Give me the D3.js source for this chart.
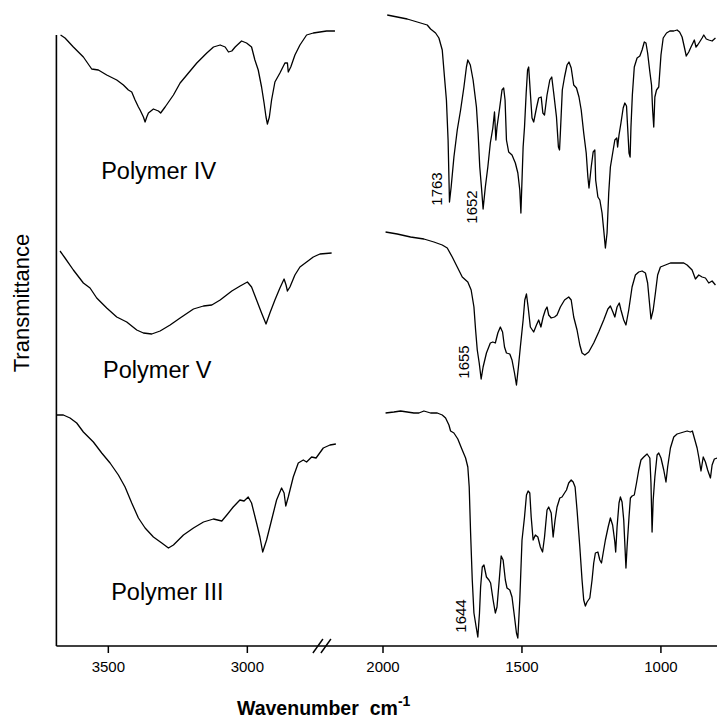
<!DOCTYPE html>
<html>
<head>
<meta charset="utf-8">
<script src="https://cdn.jsdelivr.net/npm/d3@7"></script>
<style>
  html, body { margin: 0; padding: 0; background: #ffffff; }
  svg { display: block; }
  text { font-family: "Liberation Sans", Arial, Helvetica, sans-serif; fill: #000; }
</style>
</head>
<body>
<svg id="chart" width="717" height="722"></svg>
<script>
// ---------------- DATA ----------------
const xTickValues = [3500, 3000, 2000, 1500, 1000];
const seriesNames = ["Polymer IV", "Polymer V", "Polymer III"];
const peakLabels = ["1763", "1652", "1655", "1644"];
const xTitle = "Wavenumber";
const xUnit = "cm";
const xUnitExp = "-1";
const yTitle = "Transmittance";

// Polymer IV, 3700-2680 cm-1
const ivLeftWn = [3670,3654,3624,3588,3558,3534,3504,3468,3444,3426,3414,3402,3390,3384,3372,3366,3360,3354,3336,3318,3310,3294,3264,3240,3216,3180,3144,3120,3096,3078,3066,3054,3042,3019,3001,2983,2971,2959,2947,2938,2931,2926,2919,2911,2899,2881,2863,2854,2851,2842,2827,2809,2785,2761,2737,2713,2683];
const ivLeftT  = [611,608,599,589,577,576,571,566,561,556,554,546,539,536,529,524,529,533,537,535,533,539,551,563,571,583,593,599,601,599,594,595,599,605,603,599,586,576,559,543,529,522,529,546,564,573,583,583,574,579,591,601,611,613,614,615,615];
// Polymer IV, 2000-800 cm-1
const ivRightWn = [1983,1947,1911,1875,1839,1827,1809,1797,1785,1777,1770,1764,1759,1753,1743,1731,1719,1707,1698,1693,1684,1674,1662,1656,1650,1644,1638,1630,1621,1612,1603,1597,1592,1588,1578,1570,1564,1559,1554,1546,1534,1522,1513,1506,1502,1494,1489,1483,1478,1474,1468,1462,1456,1446,1438,1429,1423,1417,1408,1398,1391,1384,1374,1367,1363,1360,1353,1345,1336,1329,1321,1312,1302,1293,1285,1276,1267,1261,1257,1249,1242,1236,1233,1225,1218,1210,1204,1198,1192,1186,1180,1170,1164,1157,1154,1149,1142,1134,1128,1122,1118,1113,1109,1106,1101,1094,1084,1074,1066,1058,1052,1046,1038,1032,1028,1024,1020,1014,1006,998,990,978,966,952,940,931,922,914,907,898,890,883,878,872,866,859,850,844,835,826,814,802];
const ivRightT  = [631,629,627,624,621,617,613,608,596,569,546,506,444,459,489,516,536,559,579,586,581,566,539,513,479,459,437,459,479,503,518,534,506,519,539,556,558,546,506,494,491,483,473,456,433,499,519,553,576,579,553,528,524,538,548,549,533,531,551,566,569,553,529,499,496,513,556,569,581,584,578,561,558,549,536,513,493,469,458,479,494,496,466,449,446,433,416,398,413,453,479,496,506,508,499,511,523,538,543,540,519,493,489,519,551,579,588,590,596,604,603,593,574,561,536,519,549,556,559,591,608,613,615,615,616,614,609,599,590,594,599,603,606,599,601,604,608,611,607,606,605,608];

// Polymer V, 3700-2680 cm-1
const vLeftWn = [3672,3654,3624,3588,3564,3540,3504,3468,3432,3396,3372,3342,3312,3276,3240,3192,3156,3126,3096,3054,3024,2998,2983,2965,2947,2931,2917,2899,2881,2866,2859,2854,2845,2827,2809,2785,2761,2737,2695];
const vLeftT  = [395,388,376,363,358,348,338,329,324,316,313,312,315,321,328,337,340,341,346,355,360,364,359,346,333,322,333,346,358,367,361,355,359,371,379,384,389,392,393];
// Polymer V, 2000-800 cm-1
const vRightWn = [1989,1947,1899,1851,1815,1785,1767,1749,1731,1713,1693,1681,1671,1665,1659,1652,1645,1638,1626,1612,1603,1594,1585,1576,1568,1561,1554,1542,1534,1525,1518,1511,1504,1494,1488,1482,1476,1468,1456,1446,1438,1430,1422,1414,1408,1402,1393,1381,1372,1360,1345,1330,1321,1312,1300,1290,1282,1272,1258,1240,1222,1204,1189,1180,1171,1164,1156,1148,1142,1132,1124,1114,1102,1090,1078,1066,1054,1046,1038,1034,1026,1018,1010,1000,982,964,946,928,916,904,886,874,862,850,838,826,814,802];
const vRightT  = [414,412,409,407,404,401,398,389,379,369,364,356,339,316,296,283,267,279,293,303,304,303,313,319,314,299,293,292,286,273,261,279,299,326,346,352,339,319,314,321,326,319,329,336,339,331,328,329,331,339,346,349,346,329,316,301,293,291,294,303,314,326,337,340,334,329,339,343,336,326,321,336,359,371,374,375,373,363,339,327,336,353,371,379,381,383,383,383,383,381,376,367,371,369,368,363,365,361];

// Polymer III, 3700-2680 cm-1
const iiiLeftWn = [3684,3660,3636,3612,3588,3552,3522,3492,3462,3438,3414,3390,3366,3336,3306,3282,3264,3228,3192,3156,3120,3090,3072,3049,3025,3010,2995,2983,2965,2953,2943,2929,2911,2893,2875,2866,2860,2851,2833,2815,2797,2785,2767,2751,2725,2701,2679];
const iiiLeftT  = [231,231,228,223,214,204,193,183,171,159,143,128,118,109,103,98,101,111,118,124,127,125,131,139,146,145,149,143,123,109,94,106,126,146,158,153,140,149,169,183,186,184,189,188,198,201,202];
// Polymer III, 2000-800 cm-1
const iiiRightWn = [1989,1959,1935,1911,1887,1869,1851,1827,1803,1785,1773,1761,1755,1743,1729,1716,1701,1693,1688,1683,1677,1671,1663,1657,1651,1647,1641,1635,1626,1617,1611,1602,1594,1588,1582,1573,1566,1558,1552,1542,1534,1525,1518,1513,1506,1498,1489,1482,1476,1470,1465,1458,1450,1441,1432,1424,1417,1408,1402,1393,1386,1379,1372,1362,1354,1345,1338,1330,1321,1314,1307,1300,1290,1282,1276,1270,1264,1254,1246,1240,1234,1225,1218,1212,1206,1198,1188,1180,1172,1164,1161,1156,1149,1144,1138,1132,1127,1124,1120,1113,1108,1102,1094,1086,1078,1070,1060,1048,1038,1034,1030,1026,1020,1012,1006,998,988,980,974,964,952,940,928,916,904,892,885,878,868,862,854,846,838,830,820,814,806,796];
const iiiRightT  = [233,234,235,234,233,233,235,233,233,231,228,221,215,213,207,198,188,179,159,113,66,33,19,9,33,59,79,81,69,66,63,46,33,39,59,90,86,66,58,56,49,29,13,8,46,106,129,151,155,153,129,106,111,109,99,94,109,136,139,133,109,126,139,148,149,153,156,163,166,164,159,136,99,66,46,40,44,48,66,83,93,94,86,83,93,106,119,128,121,104,94,119,143,149,144,126,96,78,99,129,148,150,151,163,176,186,189,192,188,163,114,146,169,191,193,188,176,164,179,198,209,212,213,214,215,214,215,208,198,189,175,189,184,176,168,181,187,188];

// ---------------- CHART ----------------
const svg = d3.select("#chart");
svg.append("rect").attr("width", 717).attr("height", 722).attr("fill", "#fff");

// broken wavenumber axis: 3685-2680 | 2000-800 (piecewise linear scale)
const x = d3.scaleLinear()
  .domain([3685, 2680, 2000, 800])
  .range([56.4, 335.8, 382.5, 716]);
const y = d3.scaleLinear().domain([0, 646]).range([646, 0]);

const line = d3.line()
  .x(d => x(d[0]))
  .y(d => y(d[1]));

const zipSeries = (wn, t) => wn.map((w, i) => [w, t[i]]);
const curves = [
  zipSeries(ivLeftWn, ivLeftT), zipSeries(ivRightWn, ivRightT),
  zipSeries(vLeftWn, vLeftT), zipSeries(vRightWn, vRightT),
  zipSeries(iiiLeftWn, iiiLeftT), zipSeries(iiiRightWn, iiiRightT)
];

svg.append("g").selectAll("path")
  .data(curves)
  .join("path")
  .attr("d", line)
  .attr("fill", "none")
  .attr("stroke", "#000")
  .attr("stroke-width", 1.3)
  .attr("stroke-linejoin", "round");

// x axis
const xAxis = d3.axisBottom(x)
  .tickValues(xTickValues)
  .tickFormat(d3.format("d"))
  .tickSize(7)
  .tickPadding(8)
  .tickSizeOuter(0);
const gx = svg.append("g")
  .attr("transform", `translate(0,${y(0)})`)
  .call(xAxis);
gx.select(".domain").attr("stroke", "#000").attr("stroke-width", 1.6)
  .attr("d", `M${x.range()[0]},0H717`);
gx.selectAll(".tick line").attr("stroke", "#000").attr("stroke-width", 1.5);
gx.selectAll(".tick text")
  .style("font-family", "'Liberation Sans', Arial, sans-serif")
  .style("font-size", "15px")
  .attr("fill", "#000");

// y axis (plain line, no ticks)
const yAxis = d3.axisLeft(y).tickValues([]).tickSizeOuter(0);
const gy = svg.append("g")
  .attr("transform", `translate(${x.range()[0]},0)`)
  .call(yAxis);
gy.select(".domain").attr("stroke", "#000").attr("stroke-width", 1.6)
  .attr("d", `M0,${y(0)}V${y(611)}`);

// axis break marks
const breakWn = 2730;
[-4, 4].forEach(off => {
  svg.append("line")
    .attr("x1", x(breakWn) + off - 5).attr("y1", y(0) + 7)
    .attr("x2", x(breakWn) + off + 5).attr("y2", y(0) - 7)
    .attr("stroke", "#000").attr("stroke-width", 1.4);
});

// series names (anchored in data coordinates)
const namePos = [[3524, 467], [3517, 268], [3488, 46]];
svg.append("g").selectAll("text")
  .data(seriesNames)
  .join("text")
  .attr("x", (d, i) => x(namePos[i][0]))
  .attr("y", (d, i) => y(namePos[i][1]))
  .style("font-size", "23.5px")
  .text(d => d);

// peak labels (rotated)
const peakPos = [[1807, 457], [1678, 439], [1710, 284], [1719, 30]];
svg.append("g").selectAll("text")
  .data(peakLabels)
  .join("text")
  .attr("transform", (d, i) => `translate(${x(peakPos[i][0])},${y(peakPos[i][1])}) rotate(-90)`)
  .attr("text-anchor", "middle")
  .attr("dominant-baseline", "central")
  .style("font-size", "15px")
  .text(d => d);

// axis titles
const xt = svg.append("text")
  .attr("x", 237)
  .attr("y", 715)
  .style("font-size", "19.5px")
  .style("font-weight", "bold");
xt.append("tspan").text(xTitle);
xt.append("tspan").attr("dx", 11).text(xUnit);
xt.append("tspan").attr("dy", -9).style("font-size", "14px").text(xUnitExp);

svg.append("text")
  .attr("transform", "translate(21,303) rotate(-90)")
  .attr("text-anchor", "middle")
  .attr("dominant-baseline", "central")
  .style("font-size", "22px")
  .text(yTitle);
</script>
</body>
</html>
